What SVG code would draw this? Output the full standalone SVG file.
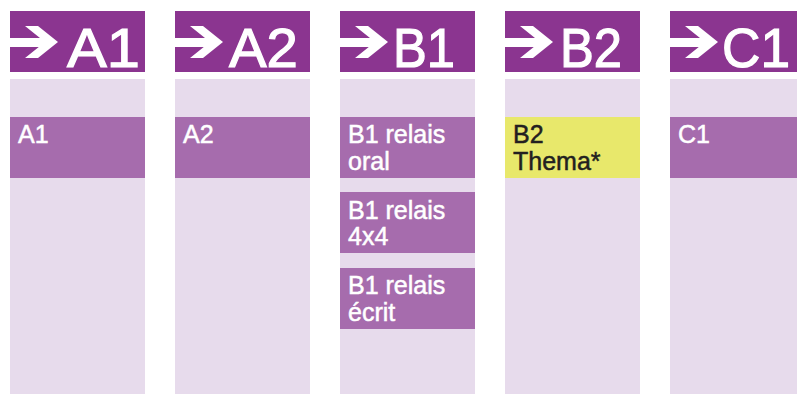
<svg xmlns="http://www.w3.org/2000/svg" xmlns:xlink="http://www.w3.org/1999/xlink" width="797" height="396" viewBox="0 0 797 396">
<style>
.hd{fill:#8b3590}
.bg{fill:#e7dbec}
.bx{fill:#a66cad}
.yl{fill:#e8e86b}
.arr{fill:#ffffff}
.ht{font-family:"Liberation Sans",Arial,sans-serif;font-size:56px;fill:#ffffff;stroke:#ffffff;stroke-width:1.2px}
.bt{font-family:"Liberation Sans",Arial,sans-serif;font-size:25px;fill:#ffffff;stroke:#ffffff;stroke-width:0.5px}
.dk{fill:#231f20;stroke:#231f20}
</style>
<defs>
<polygon id="arrow" class="arr" points="0,38 30,38 15,26 28,26 48,42 28,58 15,58 28.75,47 0,47"/>
</defs>
<rect width="797" height="396" fill="#ffffff"/>
<g id="col-A1">
<rect class="hd" x="10" y="11" width="135" height="61"/>
<use xlink:href="#arrow" x="10"/>
<text class="ht" x="67" y="66.5" textLength="73" lengthAdjust="spacingAndGlyphs">A1</text>
<rect class="bg" x="10" y="79" width="135" height="315"/>
<g id="node-A1">
<rect class="bx" x="10" y="117" width="135" height="61"/>
<text class="bt" x="18" y="143">A1</text>
</g>
</g>
<g id="col-A2">
<rect class="hd" x="175" y="11" width="135" height="61"/>
<use xlink:href="#arrow" x="175"/>
<text class="ht" x="229" y="66.5" textLength="69" lengthAdjust="spacingAndGlyphs">A2</text>
<rect class="bg" x="175" y="79" width="135" height="315"/>
<g id="node-A2">
<rect class="bx" x="175" y="117" width="135" height="61"/>
<text class="bt" x="183" y="143">A2</text>
</g>
</g>
<g id="col-B1">
<rect class="hd" x="340" y="11" width="135" height="61"/>
<use xlink:href="#arrow" x="340"/>
<text class="ht" x="393" y="66.5" textLength="62" lengthAdjust="spacingAndGlyphs">B1</text>
<rect class="bg" x="340" y="79" width="135" height="315"/>
<g id="node-B1-oral">
<rect class="bx" x="340" y="117" width="135" height="61"/>
<text class="bt" x="348" y="143">B1 relais</text>
<text class="bt" x="348" y="169.5">oral</text>
</g>
<g id="node-B1-4x4">
<rect class="bx" x="340" y="192" width="135" height="61"/>
<text class="bt" x="348" y="218.5">B1 relais</text>
<text class="bt" x="348" y="245">4x4</text>
</g>
<g id="node-B1-ecrit">
<rect class="bx" x="340" y="268" width="135" height="61"/>
<text class="bt" x="348" y="294">B1 relais</text>
<text class="bt" x="348" y="320.5">écrit</text>
</g>
</g>
<g id="col-B2">
<rect class="hd" x="505" y="11" width="135" height="61"/>
<use xlink:href="#arrow" x="505"/>
<text class="ht" x="560" y="66.5" textLength="62" lengthAdjust="spacingAndGlyphs">B2</text>
<rect class="bg" x="505" y="79" width="135" height="315"/>
<g id="node-B2">
<rect class="yl" x="505" y="117" width="135" height="61"/>
<text class="bt dk" x="513" y="143">B2</text>
<text class="bt dk" x="513" y="169.5">Thema*</text>
</g>
</g>
<g id="col-C1">
<rect class="hd" x="670" y="11" width="127" height="61"/>
<use xlink:href="#arrow" x="670"/>
<text class="ht" x="722" y="66.5" textLength="68" lengthAdjust="spacingAndGlyphs">C1</text>
<rect class="bg" x="670" y="79" width="127" height="315"/>
<g id="node-C1">
<rect class="bx" x="670" y="117" width="127" height="61"/>
<text class="bt" x="678" y="143">C1</text>
</g>
</g>
</svg>
